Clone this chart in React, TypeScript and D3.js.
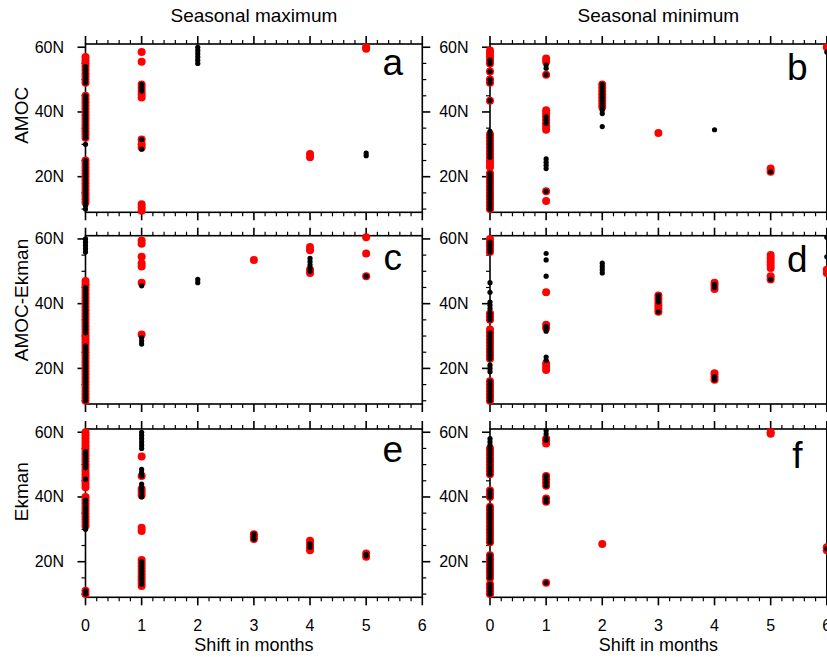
import React from "react";
import * as d3 from "d3";

// ---------- data (latitudes in °N, indexed by shift in months 0..6) ----------
const SHIFT_TICKS = [0, 1, 2, 3, 4, 5, 6];
const LAT_TICKS = [20, 40, 60];
const LAT_TICK_LABELS = ["20N", "40N", "60N"];
const COLUMN_TITLES = ["Seasonal maximum", "Seasonal minimum"];
const ROW_LABELS = ["AMOC", "AMOC-Ekman", "Ekman"];
const PANEL_LETTERS = ["a", "b", "c", "d", "e", "f"];
const X_TITLE = "Shift in months";

// Panel a: AMOC, seasonal maximum
const aRed: number[][] = [
  [12, 13, 14, 15, 16, 17, 18, 19, 20, 21, 22, 23, 24, 25, 32, 33, 34, 35, 36, 37, 38, 39, 40, 41, 42, 43, 44, 45, 49, 50, 51, 52, 53, 54, 55, 56, 57],
  [9.5, 10.5, 11.5, 29, 30, 31.5, 44.5, 45.5, 46.5, 47.5, 48.5, 55.5, 58.5],
  [],
  [],
  [26, 27],
  [59.5, 60],
  [],
];
const aBlack: number[][] = [
  [10, 11, 12, 13, 14, 15, 16, 17, 18, 19, 20, 21, 22, 23, 24, 25, 30, 32, 33, 34, 35, 36, 37, 38, 39, 40, 41, 42, 43, 44, 45, 49, 50, 51, 52, 53, 54],
  [28.5, 31.5, 46.5, 47.5, 48.5],
  [55, 56, 57, 58, 59, 60],
  [],
  [],
  [26.5, 27.3],
  [],
];

// Panel b: AMOC, seasonal minimum
const bRed: number[][] = [
  [10, 11, 12, 13, 14, 15, 16, 17, 18, 19, 20, 21, 23, 24, 25, 26, 27, 28, 29, 30, 31, 32, 33, 43.5, 49, 50, 52.5, 55, 56, 57, 58, 59],
  [12.5, 15.5, 34.5, 35.5, 36.5, 37.5, 38.5, 39.5, 40.5, 51.5, 55.5, 56.5],
  [41.5, 42.5, 43.5, 44.5, 45.5, 46.5, 47.5, 48.5],
  [33.5],
  [],
  [21.5, 22.5],
  [60],
];
const bBlack: number[][] = [
  [10, 11, 12, 13, 14, 15, 16, 17, 18, 19, 20, 21, 26, 27, 28, 29, 30, 31, 32, 33, 34, 43.5, 49, 50, 52.5, 55, 56],
  [15.5, 22.5, 23.5, 24.5, 25.5, 36.5, 37.5, 38.5, 51.5, 53.5, 54.5],
  [35.5, 39.5, 40.5, 41.5, 42.5, 43.5, 44.5, 45.5, 46.5, 47.5, 48.5],
  [],
  [34.5],
  [21.5],
  [58.5],
];

// Panel c: AMOC-Ekman, seasonal maximum
const cRed: number[][] = [
  [10, 11, 12, 13, 14, 15, 16, 17, 18, 19, 20, 21, 22, 23, 24, 25, 26, 27, 28, 29, 30, 31, 32, 33, 34, 35, 36, 37, 38, 39, 40, 41, 42, 43, 44, 45, 46, 47],
  [30.5, 46.5, 51.5, 52.5, 54.5, 58.5, 59.5],
  [],
  [53.5],
  [49.5, 50.5, 56.5, 57.5],
  [48.5, 55.5, 60.5],
  [],
];
const cBlack: number[][] = [
  [10, 11, 12, 13, 14, 15, 16, 17, 18, 19, 20, 21, 22, 23, 24, 25, 26, 27, 31, 32, 33, 34, 35, 36, 37, 38, 39, 40, 41, 42, 43, 44, 45, 56, 57, 58, 59, 60],
  [27.5, 28.5, 29.5, 45.5],
  [46.5, 47.5],
  [],
  [50, 51, 52, 53, 54],
  [48.5],
  [],
];

// Panel d: AMOC-Ekman, seasonal minimum
const dRed: number[][] = [
  [10, 11, 12, 13, 14, 15, 16, 23, 24, 25, 26, 27, 28, 29, 30, 31, 32, 35, 36, 37, 56, 57, 58, 59, 60],
  [19.5, 20.5, 21.5, 32.5, 33.5, 43.5],
  [],
  [37.5, 38.5, 39.5, 40.5, 41.5, 42.5],
  [16.5, 17.5, 18.5, 44.5, 45.5, 46.5],
  [47.5, 48.5, 51, 52, 53, 54, 55],
  [49.5, 50.5],
];
const dBlack: number[][] = [
  [10, 11, 12, 13, 14, 15, 16, 19, 20, 21, 23, 24, 25, 26, 27, 28, 29, 30, 31, 35, 36, 37, 38.5, 39.5, 40.5, 43.5, 46.5, 56, 57, 58, 59],
  [22.5, 23.5, 31.5, 32.5, 33, 48.5, 53.5, 55.5],
  [49.5, 50.5, 51.5, 52.5],
  [37.5, 40.5, 41.5, 42.5],
  [16.5, 17.5, 45, 46],
  [47.5],
  [54.5, 60.5],
];

// Panel e: Ekman, seasonal maximum
const eRed: number[][] = [
  [10, 11, 31, 32, 33, 34, 35, 36, 37, 38, 39, 40, 43, 44, 45, 46, 47, 48, 49, 50, 51, 52, 53, 54, 55, 56, 57, 58, 59, 60],
  [12.5, 13.5, 14.5, 15.5, 16.5, 17.5, 18.5, 19.5, 20.5, 29.5, 30.5, 40.5, 41.5, 42.5, 46.5, 52.5],
  [],
  [27, 27.8, 28.5],
  [23.5, 24.5, 25.5, 26.5],
  [21.5, 22.5],
  [],
];
const eBlack: number[][] = [
  [10, 11, 30, 31, 32, 33, 34, 35, 36, 37, 38, 39, 45.5, 49, 50, 51, 52, 53, 54],
  [13, 14, 15, 16, 17, 18, 19, 20, 40, 41, 42, 43, 44, 46.5, 47.5, 48.5, 55, 56, 57, 58, 59, 60],
  [],
  [27, 27.8, 28.5],
  [24.5, 25.5],
  [21.8, 22.3],
  [],
];

// Panel f: Ekman, seasonal minimum
const fRed: number[][] = [
  [10, 11, 12, 13, 15, 16, 17, 18, 19, 20, 21, 22, 26, 27, 28, 29, 30, 31, 32, 33, 34, 35, 36, 37, 40, 41, 42, 47, 48, 49, 50, 51, 52, 53, 54, 55],
  [13.5, 38.5, 39.5, 43.5, 44.5, 45.5, 46.5, 56.5, 57.5, 58],
  [25.5],
  [],
  [],
  [59.5, 60],
  [23.5, 24.5],
];
const fBlack: number[][] = [
  [10, 11, 12, 13, 15, 16, 17, 18, 19, 20, 21, 22, 26, 27, 28, 29, 30, 31, 32, 33, 34, 35, 36, 37, 40, 41, 42, 47, 48, 49, 50, 51, 52, 53, 54, 55, 56, 57, 58],
  [13.5, 38.5, 39.5, 43.5, 44.5, 45.5, 46.5, 57.5, 58, 59.5, 60.5],
  [],
  [],
  [],
  [],
  [24],
];

const PANEL_RED = [aRed, bRed, cRed, dRed, eRed, fRed];
const PANEL_BLACK = [aBlack, bBlack, cBlack, dBlack, eBlack, fBlack];

// ---------- layout ----------
const COL_X: [number, number][] = [
  [85.5, 422.3],
  [490, 826.8],
];
const ROW_TOP = [44, 235.7, 429];
const PANEL_H = 168.3;
const LETTER_BASE_OFF = [31, 36, 34, 36, 33, 39];
const ROW_LABEL_CY = [115.3, 300, 491.7];
const FONT = "'Liberation Sans', Arial, Helvetica, sans-serif";

const X_MINOR = d3.range(0, 6.0001, 0.2).filter((v) => Math.abs(v - Math.round(v)) > 1e-6);
const Y_MINOR = [10, 15, 25, 30, 35, 45, 50, 55];

function Panel({ idx }: { idx: number }) {
  const col = idx % 2;
  const row = Math.floor(idx / 2);
  const [x0, x1] = COL_X[col];
  const y0 = ROW_TOP[row];
  const y1 = y0 + PANEL_H;
  const x = d3.scaleLinear().domain([0, 6]).range([x0, x1]);
  const y = d3.scaleLinear().domain([9, 61]).range([y1, y0]);
  const red = PANEL_RED[idx];
  const black = PANEL_BLACK[idx];
  const MAJ = 8;
  const MIN = 4;
  const sw = 1.6;
  return (
    <g>
      {/* ticks */}
      {SHIFT_TICKS.map((t) => (
        <g key={"xt" + t}>
          <line x1={x(t)} x2={x(t)} y1={y0} y2={y0 - MAJ} stroke="#000" strokeWidth={sw} />
          <line x1={x(t)} x2={x(t)} y1={y1} y2={y1 + MAJ} stroke="#000" strokeWidth={sw} />
        </g>
      ))}
      {X_MINOR.map((t, i) => (
        <g key={"xm" + i}>
          <line x1={x(t)} x2={x(t)} y1={y0} y2={y0 - MIN} stroke="#000" strokeWidth={1.2} />
          <line x1={x(t)} x2={x(t)} y1={y1} y2={y1 + MIN} stroke="#000" strokeWidth={1.2} />
        </g>
      ))}
      {LAT_TICKS.map((t) => (
        <g key={"yt" + t}>
          <line x1={x0} x2={x0 - MAJ} y1={y(t)} y2={y(t)} stroke="#000" strokeWidth={sw} />
          <line x1={x1} x2={x1 + MAJ} y1={y(t)} y2={y(t)} stroke="#000" strokeWidth={sw} />
        </g>
      ))}
      {Y_MINOR.map((t) => (
        <g key={"ym" + t}>
          <line x1={x0} x2={x0 - MIN} y1={y(t)} y2={y(t)} stroke="#000" strokeWidth={1.2} />
          <line x1={x1} x2={x1 + MIN} y1={y(t)} y2={y(t)} stroke="#000" strokeWidth={1.2} />
        </g>
      ))}
      {/* frame */}
      <rect x={x0} y={y0} width={x1 - x0} height={y1 - y0} fill="none" stroke="#000" strokeWidth={sw} />
      {/* y tick labels */}
      {LAT_TICKS.map((t, i) => (
        <text key={"yl" + t} x={x0 - 21.5} y={y(t) + 5.4} textAnchor="end" fontSize={16} fontFamily={FONT}>
          {LAT_TICK_LABELS[i]}
        </text>
      ))}
      {/* x tick labels on bottom row */}
      {row === 2 &&
        SHIFT_TICKS.map((t) => (
          <text key={"xl" + t} x={x(t)} y={y1 + 33.4} textAnchor="middle" fontSize={16} fontFamily={FONT}>
            {t}
          </text>
        ))}
      {row === 2 && (
        <text x={(x0 + x1) / 2} y={651} textAnchor="middle" fontSize={18} fontFamily={FONT}>
          {X_TITLE}
        </text>
      )}
      {/* dots: red first, black on top */}
      {red.map((lats, s) =>
        lats.map((lat, k) => <circle key={"r" + s + "_" + k} cx={x(s)} cy={y(lat)} r={4} fill="#ff0000" />)
      )}
      {black.map((lats, s) =>
        lats.map((lat, k) => <circle key={"b" + s + "_" + k} cx={x(s)} cy={y(lat)} r={2.6} fill="#000" />)
      )}
      {/* panel letter */}
      <text x={x1 - 29.5} y={y0 + LETTER_BASE_OFF[idx]} textAnchor="middle" fontSize={37} fontFamily={FONT}>
        {PANEL_LETTERS[idx]}
      </text>
    </g>
  );
}

export default function App() {
  return (
    <svg
      width={827}
      height={657}
      style={{ position: "absolute", left: 0, top: 0, background: "#fff" }}
      fontFamily={FONT}
    >
      <rect x={0} y={0} width={827} height={657} fill="#fff" />
      {COLUMN_TITLES.map((t, c) => (
        <text key={t} x={(COL_X[c][0] + COL_X[c][1]) / 2} y={22} textAnchor="middle" fontSize={19} fontFamily={FONT}>
          {t}
        </text>
      ))}
      {ROW_LABELS.map((t, r) => (
        <text
          key={t}
          transform={`translate(28,${ROW_LABEL_CY[r]}) rotate(-90)`}
          textAnchor="middle"
          fontSize={19}
          fontFamily={FONT}
        >
          {t}
        </text>
      ))}
      {PANEL_LETTERS.map((_, i) => (
        <Panel key={i} idx={i} />
      ))}
    </svg>
  );
}
